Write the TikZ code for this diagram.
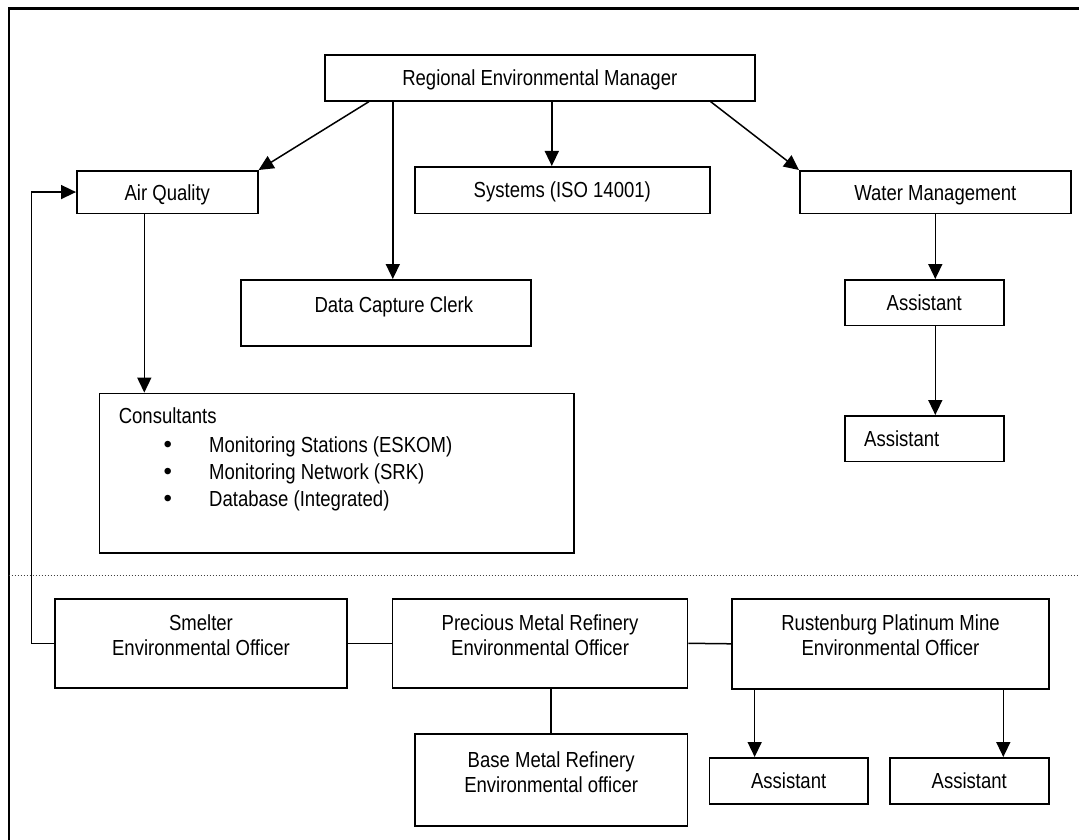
\documentclass[tikz,border=0pt]{standalone}
\usepackage{fontspec}
\setmainfont{Liberation Sans}[FakeStretch=0.85]
\newfontfamily\bulletfont{Liberation Sans}
\usetikzlibrary{arrows.meta}

\begin{document}
\begin{tikzpicture}[
  x=1pt, y=-1pt,
  every node/.style={font=\fontsize{21.8}{25.3}\selectfont},
  box/.style={draw, line width=1.6pt, rectangle, inner sep=0pt},
  lbl/.style={inner sep=0pt, text height=15.6pt, text depth=0pt},
  mlbl/.style={inner sep=0pt, align=center, anchor=north},
  bul/.style={inner sep=0pt, anchor=base, font=\bulletfont\fontsize{24}{25}\selectfont},
  conn/.style={line width=1.5pt},
  arr/.style={conn, -{Triangle[length=15pt,width=14pt]}},
  frame/.style={line width=2.2pt},
  divider/.style={line width=1pt, dash pattern=on 1pt off 2pt, black!75}
]
\useasboundingbox (0,0) rectangle (1079,840);

% page frame
\draw[frame] (8.6,840) -- (8.6,8.5) -- (1079,8.5);

% boxes: (left,top) corner, width, height
\newcommand{\orgbox}[5]{%
  \node[box, anchor=north west, minimum width=#4pt, minimum height=#5pt] (#1) at (#2,#3) {};}
\orgbox{rem}{324}{54}{430}{46}
\orgbox{aq}{76}{170}{181}{42.5}
\orgbox{sys}{414}{166}{295}{46.5}
\orgbox{wm}{799}{170}{271}{42.5}
\orgbox{dcc}{240}{279}{290}{66}
\orgbox{asta}{844}{279}{159}{45.5}
\orgbox{astb}{844}{415}{159}{45.5}
\orgbox{cons}{98.6}{392.6}{474.7}{159.4}
\orgbox{smelter}{54}{598}{292.4}{89}
\orgbox{pmr}{391.8}{598}{294.9}{89}
\orgbox{rpm}{731.4}{598}{316.6}{90}
\orgbox{bmr}{414}{733}{272.7}{92}
\orgbox{astbl}{708.7}{757}{158.3}{46}
\orgbox{astbr}{889}{757}{159}{46}

% labels
\node[lbl] (remt) at (rem.center) {Regional Environmental Manager};
\node[lbl] (aqt) at ([yshift=-1pt]aq.center) {Air Quality};
\node[lbl] (syst) at (sys.center) {Systems (ISO 14001)};
\node[lbl] (wmt) at ([yshift=-1pt]wm.center) {Water Management};
\node[lbl] (dcct) at ([xshift=8pt,yshift=-26pt]dcc.north) {Data Capture Clerk};
\node[lbl] (astat) at (asta.center) {Assistant};
\node[lbl, anchor=west] (astbt) at ([xshift=20pt]astb.west) {Assistant};
\node[lbl] (astblt) at (astbl.center) {Assistant};
\node[lbl] (astbrt) at (astbr.center) {Assistant};

\node[mlbl] (smeltert) at ([yshift=-16.5pt]smelter.north) {Smelter\\Environmental Officer};
\node[mlbl] (pmrt) at ([yshift=-16.5pt]pmr.north) {Precious Metal Refinery\\Environmental Officer};
\node[mlbl] (rpmt) at ([yshift=-16.5pt]rpm.north) {Rustenburg Platinum Mine\\Environmental Officer};
\node[mlbl] (bmrt) at ([yshift=-18pt]bmr.north) {Base Metal Refinery\\Environmental officer};

% consultants list
\node[inner sep=0pt, anchor=base west] (ctitle) at (118.6,423) {Consultants};
\node[bul] (b1) at (167.7,452) {•};
\node[bul] (b2) at (167.7,479.3) {•};
\node[bul] (b3) at (167.7,506.8) {•};
\node[inner sep=0pt, anchor=base west] (i1) at (209,452) {Monitoring Stations (ESKOM)};
\node[inner sep=0pt, anchor=base west] (i2) at (209,479.3) {Monitoring Network (SRK)};
\node[inner sep=0pt, anchor=base west] (i3) at (209,506.8) {Database (Integrated)};

% divider between head office and operations
\draw[divider] (8.6,575) -- (1079,575);

% entry points of the vertical connectors
\coordinate (dccin) at ([xshift=7pt]dcc.north);
\coordinate (sysin) at ([xshift=-10.5pt]sys.north);
\coordinate (consin) at ([xshift=45.7pt]cons.north west);
\coordinate (blin) at ([xshift=-34pt]astbl.north);
\coordinate (brin) at ([xshift=34pt]astbr.north);

% reporting lines
\draw[arr] ([xshift=45pt]rem.south west) -- (aq.north east);
\draw[arr] ([xshift=-45pt]rem.south east) -- (wm.north west);
\draw[arr] (rem.south -| dccin) -- (dccin);
\draw[arr] (rem.south -| sysin) -- (sysin);
\draw[arr] (aq.south -| consin) -- (consin);
\draw[arr] (wm.south) -- (wm.south |- asta.north);
\draw[arr] (wm.south |- asta.south) -- (wm.south |- astb.north);
\draw[arr] (smelter.west) -- ++(-22.4,0) |- (aq.west);
\draw[conn] (smelter.east) -- (pmr.west);
\draw[conn] (pmr.east) -- (rpm.west);
\draw[conn] (bmr.north |- pmr.south) -- (bmr.north);
\draw[arr] (rpm.south -| blin) -- (blin);
\draw[arr] (rpm.south -| brin) -- (brin);
\end{tikzpicture}
\end{document}
